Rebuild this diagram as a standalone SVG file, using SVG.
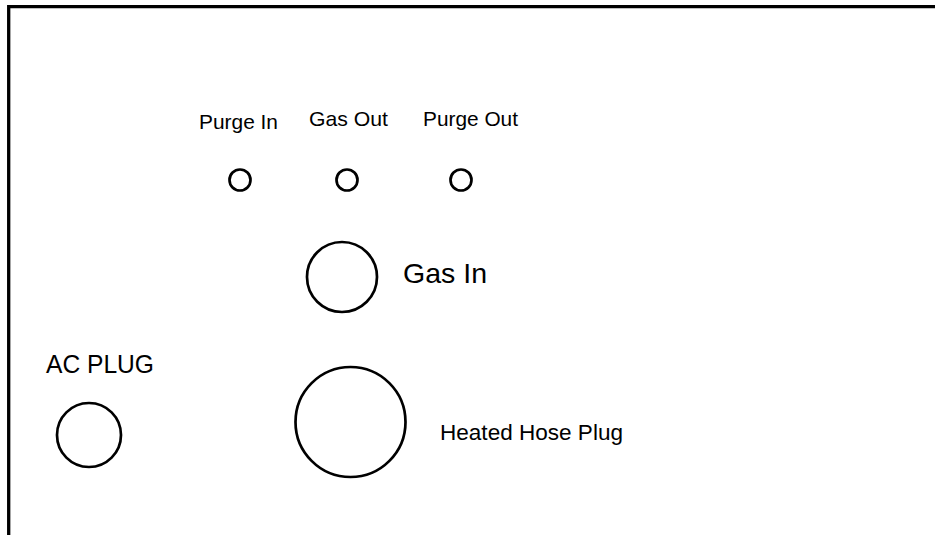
<svg xmlns="http://www.w3.org/2000/svg" width="935" height="535" viewBox="0 0 935 535">
<style>
.port{fill:none;stroke:#000;stroke-width:2.7}
.lbl{font-family:"Liberation Sans",Arial,sans-serif;fill:#000}
.frame{fill:none;stroke:#000;stroke-width:3.3}
</style>
<rect width="935" height="535" fill="#fff"/>
<g id="frame"><path class="frame" d="M8.7,535 V6.7 H935"/></g>
<g id="purge-in"><circle class="port" cx="240" cy="180" r="10.5"/><text class="lbl" x="199" y="129" font-size="21" textLength="79" lengthAdjust="spacingAndGlyphs">Purge In</text></g>
<g id="gas-out"><circle class="port" cx="347" cy="180" r="10.5"/><text class="lbl" x="309" y="126" font-size="21" textLength="79" lengthAdjust="spacingAndGlyphs">Gas Out</text></g>
<g id="purge-out"><circle class="port" cx="461" cy="180" r="10.5"/><text class="lbl" x="423" y="126" font-size="21" textLength="95" lengthAdjust="spacingAndGlyphs">Purge Out</text></g>
<g id="gas-in"><circle class="port" cx="342" cy="277" r="35"/><text class="lbl" x="403" y="283" font-size="27.5" textLength="84" lengthAdjust="spacingAndGlyphs">Gas In</text></g>
<g id="ac-plug"><circle class="port" cx="89" cy="435" r="32"/><text class="lbl" x="46" y="373" font-size="26" textLength="108" lengthAdjust="spacingAndGlyphs">AC PLUG</text></g>
<g id="heated-hose-plug"><circle class="port" cx="350.5" cy="422" r="55"/><text class="lbl" x="440" y="440" font-size="22" textLength="183" lengthAdjust="spacingAndGlyphs">Heated Hose Plug</text></g>
<g id="connectors"/>
</svg>
